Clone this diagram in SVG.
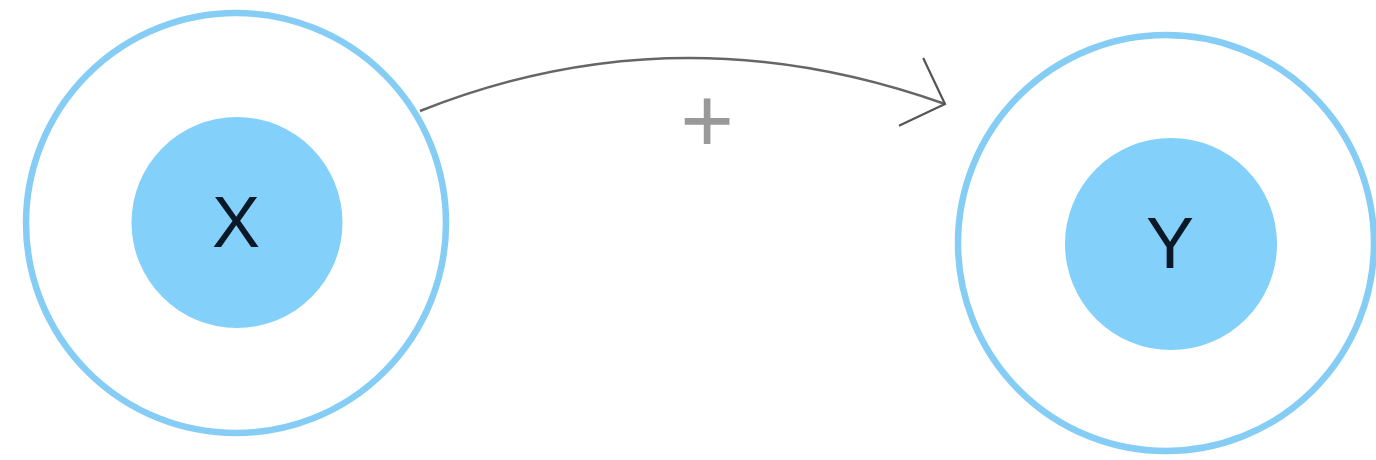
<svg xmlns="http://www.w3.org/2000/svg" width="1376" height="460" viewBox="0 0 1376 460">
<style>
.outer{fill:none;stroke:#86CDF5;stroke-width:6.5}
.inner{fill:#83D0FB}
.lbl{font-family:"Liberation Sans",Arial,sans-serif;font-size:72px;fill:#0B1828;text-anchor:middle}
.plus{font-family:"Liberation Sans",Arial,sans-serif;font-size:92px;fill:#999999;text-anchor:middle}
.edge{fill:none;stroke:#666666;stroke-width:2.5}
</style>
<defs>
<marker id="arr" markerUnits="userSpaceOnUse" markerWidth="60" markerHeight="90" viewBox="-40 -45 50 90" refX="0" refY="0" orient="auto">
<path d="M-36,-36 L0,0 L-36,36" fill="none" stroke="#555555" stroke-width="2.2"/>
</marker>
</defs>
<rect width="1376" height="460" fill="#ffffff"/>
<g id="node-x">
<circle class="outer" cx="236" cy="223" r="210"/>
<circle class="inner" cx="237" cy="222.5" r="105.5"/>
<text class="lbl" x="236" y="247">X</text>
</g>
<g id="node-y">
<circle class="outer" cx="1166" cy="243" r="208"/>
<circle class="inner" cx="1171" cy="244" r="106"/>
<text class="lbl" x="1170" y="268">Y</text>
</g>
<g id="connectors">
<path class="edge" d="M420,111 Q677,8.5 945,104" marker-end="url(#arr)"/>
<text class="plus" x="707" y="152">+</text>
</g>
</svg>
